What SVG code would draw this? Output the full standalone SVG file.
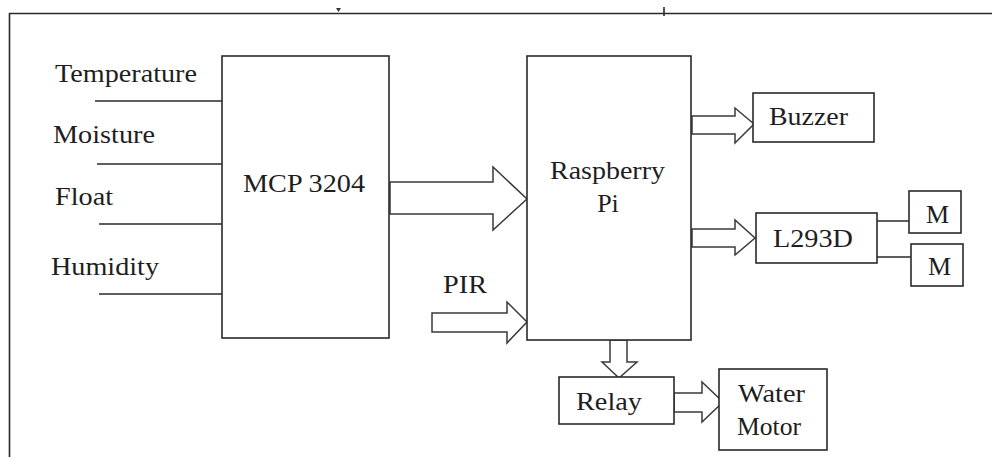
<svg xmlns="http://www.w3.org/2000/svg" width="992" height="457" viewBox="0 0 992 457">
<style>
.box{fill:#fff;stroke:#2a2a2a;stroke-width:1.6}
.ln{fill:none;stroke:#2a2a2a;stroke-width:1.6}
.arr{fill:#fff;stroke:#3a3a3a;stroke-width:1.5;stroke-linejoin:miter}
text{font-family:'Liberation Serif','DejaVu Serif',serif;font-size:26px;fill:#1e1e1e}
.c{text-anchor:middle}
</style>
<rect width="992" height="457" fill="#fff"/>
<g id="frame">
<path class="ln" d="M9.5 457V13.5H992" stroke="#555" stroke-width="2"/>
<path d="M336 8h5l-2.5 4z" fill="#333"/>
<path class="ln" d="M664 7v9"/>
</g>
<g id="connectors">
<path class="ln" d="M95 101H222M97 164H222M99 224H222M99 294H222"/>
<path class="ln" d="M877 221H909M877 257H911"/>
<polygon class="arr" points="390,182 493,182 493,167 527,199 493,230 493,214 390,214"/>
<polygon class="arr" points="432,313 507,313 507,302 527,322 507,343 507,332 432,332"/>
<polygon class="arr" points="692,116 735,116 735,108 754,124 735,143 735,134 692,134"/>
<polygon class="arr" points="692,229 735,229 735,220 755,238 735,255 735,247 692,247"/>
<polygon class="arr" points="610,340 610,362 602,362 619,378 637,362 627,362 627,340"/>
<polygon class="arr" points="674,393 702,393 702,382 723,402 702,422 702,412 674,412"/>
</g>
<g id="labels">
<text x="55" y="82" textLength="142" lengthAdjust="spacingAndGlyphs">Temperature</text>
<text x="53" y="143" textLength="102" lengthAdjust="spacingAndGlyphs">Moisture</text>
<text x="55" y="205" textLength="58" lengthAdjust="spacingAndGlyphs">Float</text>
<text x="51" y="275" textLength="108" lengthAdjust="spacingAndGlyphs">Humidity</text>
<text x="443" y="293" textLength="44" lengthAdjust="spacingAndGlyphs">PIR</text>
</g>
<g id="mcp3204">
<rect class="box" x="222" y="56" width="167" height="282"/>
<text x="243" y="192" textLength="122" lengthAdjust="spacingAndGlyphs">MCP 3204</text>
</g>
<g id="raspberry-pi">
<rect class="box" x="527" y="56" width="164" height="284"/>
<text x="550" y="179" textLength="115" lengthAdjust="spacingAndGlyphs">Raspberry</text>
<text class="c" x="608" y="212">Pi</text>
</g>
<g id="buzzer">
<rect class="box" x="753" y="93" width="121" height="49"/>
<text x="769" y="125" textLength="79" lengthAdjust="spacingAndGlyphs">Buzzer</text>
</g>
<g id="l293d">
<rect class="box" x="756" y="213" width="121" height="50"/>
<text x="773" y="247" textLength="80" lengthAdjust="spacingAndGlyphs">L293D</text>
</g>
<g id="m1">
<rect class="box" x="909" y="191" width="52" height="42"/>
<text x="926" y="223">M</text>
</g>
<g id="m2">
<rect class="box" x="911" y="244" width="52" height="42"/>
<text x="928" y="275">M</text>
</g>
<g id="relay">
<rect class="box" x="559" y="377" width="115" height="47"/>
<text x="576" y="410" textLength="66" lengthAdjust="spacingAndGlyphs">Relay</text>
</g>
<g id="water-motor">
<rect class="box" x="719" y="369" width="108" height="81"/>
<text x="738" y="402" textLength="67" lengthAdjust="spacingAndGlyphs">Water</text>
<text x="737" y="435" textLength="64" lengthAdjust="spacingAndGlyphs">Motor</text>
</g>
</svg>
